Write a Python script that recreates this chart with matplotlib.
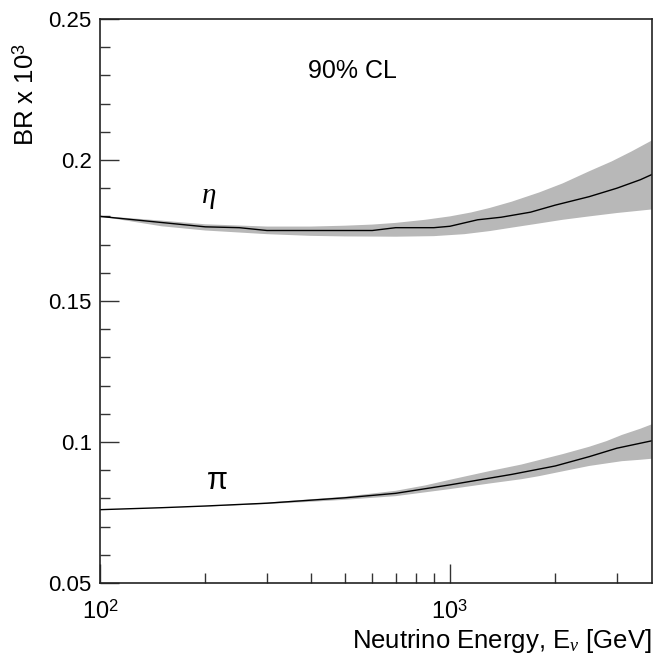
import matplotlib
matplotlib.use("Agg")
import matplotlib.pyplot as plt
from matplotlib.ticker import FixedLocator, FixedFormatter, MultipleLocator, FormatStrFormatter

plt.rcParams['font.family'] = ['Liberation Sans', 'DejaVu Sans']
plt.rcParams['mathtext.fontset'] = 'custom'
plt.rcParams['mathtext.rm'] = 'Liberation Sans'
plt.rcParams['mathtext.it'] = 'Liberation Serif:italic'

# eta curve (central line) and band
eta_x = [100, 200, 250, 300, 600, 700, 900, 1000, 1200, 1400, 1700, 2000, 2500, 3000, 3500, 3800]
eta_y = [0.1800, 0.1763, 0.1760, 0.1750, 0.1750, 0.1760, 0.1760, 0.1765, 0.1788, 0.1797, 0.1815,
         0.1840, 0.1870, 0.1900, 0.1930, 0.1950]
eta_hi_x = [100, 150, 200, 300, 400, 500, 600, 700, 850, 1000, 1150, 1300, 1500, 1800, 2100, 2500,
            2900, 3300, 3800]
eta_hi = [0.1802, 0.1785, 0.1772, 0.1764, 0.1764, 0.1767, 0.1771, 0.1777, 0.1788, 0.1800, 0.1814,
          0.1830, 0.1852, 0.1885, 0.1917, 0.1960, 0.1995, 0.2030, 0.2071]
eta_lo_x = [100, 150, 200, 300, 400, 500, 700, 900, 1100, 1300, 1500, 1800, 2100, 2500, 3000, 3800]
eta_lo = [0.1800, 0.1765, 0.1750, 0.1737, 0.1731, 0.1729, 0.1728, 0.1730, 0.1737, 0.1748, 0.1760,
          0.1775, 0.1788, 0.1800, 0.1812, 0.1825]

# pi curve and band
pi_x = [100, 150, 200, 300, 500, 700, 1000, 1500, 2000, 2500, 3000, 3800]
pi_y = [0.0760, 0.0767, 0.0773, 0.0783, 0.0802, 0.0818, 0.0848, 0.0885, 0.0915, 0.0948, 0.0978, 0.1005]
pi_hi_x = [100, 200, 300, 400, 500, 700, 850, 1000, 1300, 1600, 1800, 2100, 2500, 2800, 3100, 3500, 3800]
pi_hi = [0.0760, 0.0772, 0.0785, 0.0797, 0.0806, 0.0827, 0.0846, 0.0866, 0.0897, 0.0920, 0.0936,
         0.0957, 0.0983, 0.1003, 0.1025, 0.1047, 0.1064]
pi_lo_x = [100, 200, 300, 400, 500, 700, 1000, 1300, 1600, 1800, 2100, 2500, 2800, 3100, 3500, 3800]
pi_lo = [0.0760, 0.0771, 0.0780, 0.0788, 0.0795, 0.0808, 0.0833, 0.0853, 0.0868, 0.0879, 0.0896,
         0.0915, 0.0924, 0.0932, 0.0937, 0.0941]

y_ticks = [0.05, 0.1, 0.15, 0.2, 0.25]
x_ticks = [100, 1000]
x_ticklabels = [r'$10^2$', r'$10^3$']

fig = plt.figure(figsize=(6.56, 6.56), dpi=100)
ax = fig.add_axes([100/656, 73/656, 552/656, 564/656])

band_color = '#b8b8b8'
# band polygon: upper edge forward, lower edge backward
ax.fill(eta_hi_x + eta_lo_x[::-1], eta_hi + eta_lo[::-1], color=band_color, lw=0)
ax.fill(pi_hi_x + pi_lo_x[::-1], pi_hi + pi_lo[::-1], color=band_color, lw=0)
ax.plot(eta_x, eta_y, color='black', lw=1.0)
ax.plot(pi_x, pi_y, color='black', lw=1.0)

ax.set_xscale('log')
ax.set_xlim(100, 3780)
ax.set_ylim(0.05, 0.25)

ax.xaxis.set_major_locator(FixedLocator(x_ticks))
ax.xaxis.set_major_formatter(FixedFormatter(x_ticklabels))
ax.xaxis.set_minor_locator(FixedLocator([200, 300, 400, 500, 600, 700, 800, 900, 2000, 3000]))
ax.xaxis.set_minor_formatter(FixedFormatter([''] * 10))
ax.yaxis.set_major_locator(FixedLocator(y_ticks))
ax.yaxis.set_major_formatter(FormatStrFormatter('%g'))
ax.yaxis.set_minor_locator(MultipleLocator(0.01))

ax.tick_params(which='both', direction='in', top=False, right=False, width=1.0, color='#333333')
ax.tick_params(which='major', length=13.5)
ax.tick_params(which='minor', length=7)
ax.tick_params(axis='y', which='major', labelsize=16, pad=6)
ax.tick_params(axis='x', which='major', labelsize=17, pad=12)
for s in ax.spines.values():
    s.set_linewidth(1.2)
    s.set_color('#222222')

ax.text(205, 0.1869, r'$\eta$', fontsize=21, ha='center', va='center')
ax.text(216, 0.0862, 'π', fontsize=22, ha='center', va='center')
ax.text(0.458, 0.907, '90% CL', transform=ax.transAxes, fontsize=18, ha='center', va='center')

fig.text(652/656, 1 - 641/656, r'Neutrino Energy, E$_\nu$ [GeV]', fontsize=18.5, ha='right', va='center')
fig.text(26/656, 1 - 43/656, r'BR x 10$^3$', fontsize=18.5, rotation=90, ha='center', va='top')

fig.savefig('out.png', dpi=100)
